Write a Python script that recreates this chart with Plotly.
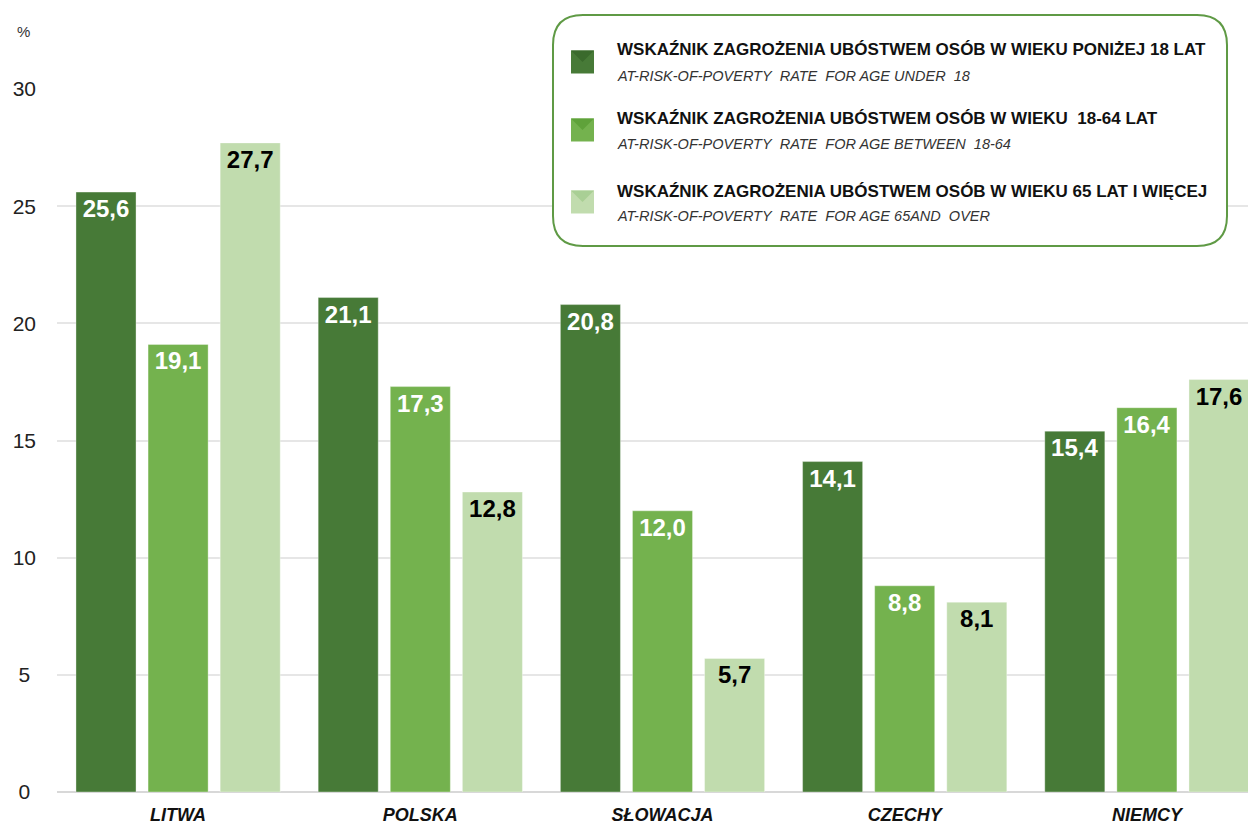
import plotly.graph_objects as go

categories = ["LITWA", "POLSKA", "SŁOWACJA", "CZECHY", "NIEMCY"]
under18 = [25.6, 21.1, 20.8, 14.1, 15.4]
age18_64 = [19.1, 17.3, 12.0, 8.8, 16.4]
age65plus = [27.7, 12.8, 5.7, 8.1, 17.6]

series_pl = [
    "WSKAŹNIK ZAGROŻENIA UBÓSTWEM OSÓB W WIEKU PONIŻEJ 18 LAT",
    "WSKAŹNIK ZAGROŻENIA UBÓSTWEM OSÓB W WIEKU  18-64 LAT",
    "WSKAŹNIK ZAGROŻENIA UBÓSTWEM OSÓB W WIEKU 65 LAT I WIĘCEJ",
]
series_en = [
    "AT-RISK-OF-POVERTY  RATE  FOR AGE UNDER  18",
    "AT-RISK-OF-POVERTY  RATE  FOR AGE BETWEEN  18-64",
    "AT-RISK-OF-POVERTY  RATE  FOR AGE 65AND  OVER",
]
y_ticks = [0, 5, 10, 15, 20, 25, 30]

colors = ["#477a37", "#74b24e", "#c1dcae"]
text_colors = ["white", "white", "black"]

# the page body has an 8px margin; layout below is in figure pixels
OFF = 8
W, H = 1256, 823
L, R, T, B = 49, 0, 81, 39
PW, PH = W - L - R, H - T - B


def px2paper(x, y):
    # x, y given in page pixels
    fx, fy = x - OFF, y - OFF
    return (fx - L) / PW, (H - B - fy) / PH


fig = go.Figure()
for vals, name, col, tcol in zip([under18, age18_64, age65plus], series_pl, colors, text_colors):
    fig.add_trace(go.Bar(
        x=categories, y=vals, name=name,
        marker=dict(color=col, line=dict(color="rgba(255,255,255,0.35)", width=1)),
        texttemplate="%{y:.1f}", textposition="inside", insidetextanchor="end",
        textangle=0, constraintext="none",
        textfont=dict(family="Liberation Sans, Arial, sans-serif", size=24, color=tcol, weight="bold"),
        showlegend=False, hoverinfo="skip",
    ))

shapes = []
annotations = []


def P(x, y):
    a, b = px2paper(x, y)
    return f"{a:.5f},{b:.5f}"


# rounded legend box
x0, y0, x1, y1 = 553, 15, 1227, 246
r = 30
path = (f"M{P(x0 + r, y0)} L{P(x1 - r, y0)} Q{P(x1, y0)} {P(x1, y0 + r)} "
        f"L{P(x1, y1 - r)} Q{P(x1, y1)} {P(x1 - r, y1)} L{P(x0 + r, y1)} "
        f"Q{P(x0, y1)} {P(x0, y1 - r)} L{P(x0, y0 + r)} Q{P(x0, y0)} {P(x0 + r, y0)} Z")
shapes.append(dict(type="path", xref="paper", yref="paper", path=path,
                   fillcolor="white", line=dict(color="#5f9a45", width=2), layer="above"))

marker_cy = [62, 130, 202]
line1_y = [50, 118, 191]
line2_y = [76, 144, 216]
shade = ["#3a6a2c", "#5fa23a", "#a9cf95"]
for i in range(3):
    mx0, mx1 = 571, 594
    my0, my1 = marker_cy[i] - 11.5, marker_cy[i] + 11.5
    a0, b0 = px2paper(mx0, my1)
    a1, b1 = px2paper(mx1, my0)
    shapes.append(dict(type="rect", xref="paper", yref="paper", x0=a0, y0=b0, x1=a1, y1=b1,
                       fillcolor=colors[i], line=dict(width=0), layer="above"))
    tri = f"M{P(mx0, my0)} L{P(mx1, my0)} L{P((mx0 + mx1) / 2, (my0 + my1) / 2)} Z"
    shapes.append(dict(type="path", xref="paper", yref="paper", path=tri,
                       fillcolor=shade[i], line=dict(width=0), layer="above"))
    ax, ay = px2paper(615, line1_y[i])
    annotations.append(dict(xref="paper", yref="paper", x=ax, y=ay, xanchor="left", yanchor="middle",
                            text="<b>" + series_pl[i].replace("  ", "&nbsp; ") + "</b>", showarrow=False,
                            font=dict(family="Liberation Sans, Arial", size=17, color="#111111")))
    ax, ay = px2paper(615, line2_y[i])
    annotations.append(dict(xref="paper", yref="paper", x=ax, y=ay, xanchor="left", yanchor="middle",
                            text="<i>" + series_en[i].replace("  ", "&nbsp; ") + "</i>", showarrow=False,
                            font=dict(family="Liberation Sans, Arial", size=14.5, color="#333333")))

# percent sign
ax, ay = px2paper(23, 32)
annotations.append(dict(xref="paper", yref="paper", x=ax, y=ay, xanchor="center", yanchor="middle",
                        text="%", showarrow=False,
                        font=dict(family="Liberation Sans, Arial", size=15, color="#333333")))

units_per_px = 1 / 242.2
fig.update_layout(
    width=W, height=H,
    margin=dict(l=L, r=R, t=T, b=B, pad=0),
    paper_bgcolor="white", plot_bgcolor="white",
    barmode="group", bargap=0.107, bargroupgap=0.167,
    separators=", ",
    shapes=shapes, annotations=annotations,
    xaxis=dict(range=[-0.5, -0.5 + PW * units_per_px], showgrid=False, zeroline=False, showline=False,
               ticks="", ticklabelstandoff=10,
               tickfont=dict(family="Liberation Sans, Arial", size=18, color="#111111",
                             weight="bold", style="italic")),
    yaxis=dict(range=[0, 30], tickvals=y_ticks,
               ticktext=[str(v) if v >= 10 else str(v) + "\u2008" for v in y_ticks],
               showgrid=True, gridcolor="#e6e6e6", gridwidth=1.5,
               zeroline=True, zerolinecolor="#d8d8d8", zerolinewidth=2,
               showline=False, ticks="", ticklabelstandoff=20,
               tickfont=dict(family="Liberation Sans, Arial", size=21, color="#222222")),
    font=dict(family="Liberation Sans, Arial"),
)

fig.write_html("out.html")
